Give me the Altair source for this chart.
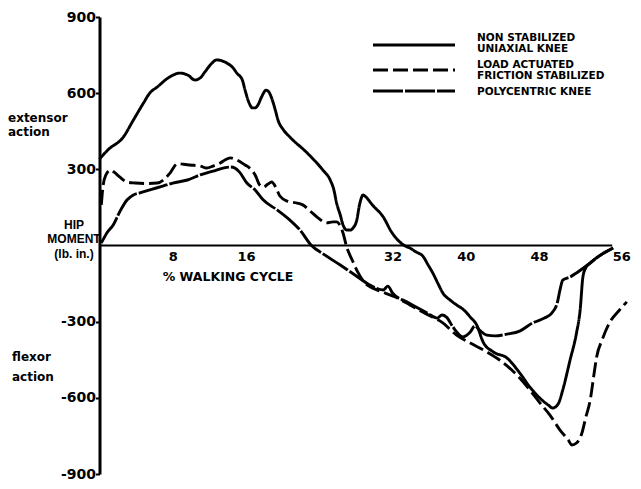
import altair as alt
import pandas as pd

# ---- data (x = % walking cycle, y = hip moment, lb. in.) ----
SERIES = ["NON STABILIZED", "LOAD ACTUATED", "POLYCENTRIC"]
LEGEND_TEXT = [
    ["NON STABILIZED", "UNIAXIAL KNEE"],
    ["LOAD ACTUATED", "FRICTION STABILIZED"],
    ["POLYCENTRIC KNEE"],
]

non_stab_x = [0.0, 0.9, 2.6, 3.7, 4.8, 5.5, 6.3, 7.5, 8.8, 9.7, 10.4, 11.0, 11.5, 12.2, 12.8,
              13.4, 13.9, 14.6, 15.0, 15.6, 15.9, 16.3, 16.7, 17.0, 17.3, 17.7, 18.2, 18.5, 18.8,
              19.2, 19.5, 20.1, 20.8, 22.7, 24.4, 25.2, 25.6, 25.9, 26.3, 26.6, 27.0, 27.4, 27.7,
              28.1, 28.4, 28.8, 29.1, 29.8, 31.0, 31.9, 32.8, 33.4, 33.9, 34.6, 35.3, 35.9, 36.4,
              37.0, 37.5, 38.3, 39.0, 39.8, 40.5, 41.2, 41.9, 43.0, 44.5, 45.9, 47.0, 48.1, 49.0,
              49.5, 50.1, 50.6, 51.4, 52.1, 52.5, 52.8, 53.1, 53.6, 54.6, 56.1]
non_stab_y = [340, 376, 427, 494, 561, 601, 624, 660, 679, 670, 652, 660, 683, 715, 731,
              727, 719, 699, 679, 652, 612, 565, 542, 542, 553, 585, 612, 605, 581,
              534, 494, 455, 427, 364, 297, 258, 219, 167, 120, 81, 61, 61, 69,
              100, 160, 199, 191, 160, 112, 53, 14, -2, -10, -26, -41, -77, -108,
              -152, -187, -215, -234, -254, -282, -313, -380, -419, -443, -502, -557, -601, -628,
              -640, -624, -569, -451, -345, -254, -124, -89, -69, -41, -10]

load_x = [0.2, 0.4, 0.7, 1.2, 1.6, 2.2, 3.0, 3.9, 5.0, 6.3, 7.1, 7.7, 8.5, 9.2,
          9.9, 11.0, 11.7, 12.4, 13.2, 13.7, 14.3, 15.0, 15.9, 16.4, 17.0, 17.5, 17.9, 18.4,
          18.8, 19.3, 19.7, 20.5, 21.6, 22.2, 23.0, 23.9, 24.8, 25.5, 25.9, 26.3, 26.6, 27.0,
          27.6, 28.2, 29.0, 29.8, 30.6, 32.3, 33.9, 35.5, 37.5, 39.0, 40.5, 42.3, 43.7, 45.9,
          47.0, 48.1, 49.2, 50.3, 51.2, 51.6, 52.1, 52.7, 53.1, 53.6, 54.0, 54.3, 54.9, 55.7,
          56.8, 57.6]
load_y = [160, 238, 278, 297, 289, 270, 250, 246, 244, 246, 262, 285, 322, 320,
          317, 313, 305, 313, 325, 337, 345, 337, 317, 305, 278, 238, 230, 242,
          250, 226, 195, 175, 167, 160, 136, 108, 89, 93, 93, 77, 49, -6,
          -57, -104, -148, -167, -179, -203, -234, -266, -305, -353, -384, -419, -451, -522,
          -569, -620, -668, -727, -766, -786, -778, -738, -679, -609, -510, -439, -372, -305,
          -254, -222]

poly_x = [0.2, 0.5, 0.8, 1.5, 2.2, 3.0, 3.7, 4.4, 5.5, 6.9, 8.0, 9.6, 11.0, 12.4, 13.5,
          14.3, 14.8, 15.3, 16.1, 17.0, 17.9, 19.4, 20.8, 21.9, 23.1, 24.6, 26.3, 27.9, 29.9,
          31.0, 31.5, 32.0, 33.6, 35.8, 36.9, 37.4, 37.9, 38.6, 39.7, 40.5, 41.0, 41.5, 42.3,
          43.2, 44.5, 45.9, 47.3, 48.6, 49.4, 50.0, 50.3, 50.6, 51.4, 52.1, 53.6, 54.6, 56.1]
poly_y = [10, 30, 49, 81, 132, 179, 199, 207, 219, 234, 246, 258, 278, 293, 305,
          309, 305, 289, 246, 219, 179, 140, 100, 61, 2, -37, -77, -116, -163,
          -175, -160, -187, -223, -266, -286, -274, -282, -321, -360, -341, -317, -333, -353,
          -356, -349, -337, -305, -286, -266, -226, -175, -136, -124, -108, -69, -41, -10]

x_ticks = [8, 16, 32, 40, 48, 56]
y_ticks = [-900, -600, -300, 300, 600, 900]
zero_line_end = 56.0

rows = []
for name, xs, ys in [(SERIES[0], non_stab_x, non_stab_y),
                     (SERIES[1], load_x, load_y),
                     (SERIES[2], poly_x, poly_y)]:
    for i, (xv, yv) in enumerate(zip(xs, ys)):
        rows.append({"series": name, "x": xv, "y": yv, "i": i})
df = pd.DataFrame(rows)

W, H = 531, 457
BOLD = "DejaVu Sans"
NARROW = "Liberation Sans Narrow, Liberation Sans, sans-serif"
DASH_SCALE = alt.Scale(domain=SERIES, range=[[1, 0], [15, 5], [30, 2]])

x_enc = alt.X(
    "x:Q",
    scale=alt.Scale(domain=[0, 58], nice=False, zero=False),
    axis=alt.Axis(
        values=x_ticks, offset=-H / 2, domain=False, ticks=False, tickSize=0, grid=False,
        labelFont=BOLD, labelFontWeight="bold", labelFontSize=13, labelColor="black",
        labelPadding=5, labelFlush=False,
        labelAlign=alt.condition("datum.value == 56", alt.value("left"), alt.value("center")),
        title="% WALKING CYCLE", titleX=128, titleY=25, titleAlign="center",
        titleBaseline="top", titleFont=BOLD, titleFontSize=12.5, titleFontWeight="bold",
        titleColor="black",
    ),
)
y_enc = alt.Y(
    "y:Q",
    scale=alt.Scale(domain=[-900, 900], nice=False),
    axis=alt.Axis(
        values=y_ticks, grid=False, domainColor="black", domainWidth=3,
        tickColor="black", tickSize=4, tickWidth=2,
        labelFont=BOLD, labelFontWeight="bold", labelFontSize=14, labelColor="black",
        labelPadding=0, labelFlush=False,
        labelExpr="datum.value < 0 ? '-' + format(abs(datum.value), 'd') : datum.label",
        title=["HIP", "MOMENT", "(lb. in.)"], titleAngle=0, titleAlign="center",
        titleBaseline="top", titleX=-26, titleY=202, titleFont=NARROW, titleFontSize=12,
        titleFontWeight="bold", titleLineHeight=14.5, titleColor="black",
    ),
)

lines = alt.Chart(df).mark_line(
    color="black", strokeWidth=2.9, interpolate="monotone", strokeJoin="round"
).encode(
    x=x_enc,
    y=y_enc,
    strokeDash=alt.StrokeDash("series:N", scale=DASH_SCALE, legend=None),
    order="i:Q",
)

zero_df = pd.DataFrame({"x": [0], "x2": [zero_line_end], "y": [0]})
zero_rule = alt.Chart(zero_df).mark_rule(color="black", strokeWidth=2).encode(
    x="x:Q", x2="x2:Q", y="y:Q"
)

# ---- hand-drawn style legend (line sample + caption), top right ----
legend_layers = []
legend_line_y = [28, 53, 74]
legend_text_y = [24, 51, 78]
for s, txt, ly, ty in zip(SERIES, LEGEND_TEXT, legend_line_y, legend_text_y):
    ldf = pd.DataFrame({"series": [s]})
    legend_layers.append(
        alt.Chart(ldf).mark_rule(color="black", strokeWidth=3).encode(
            x=alt.value(273.5), x2=alt.value(355.5), y=alt.value(ly),
            strokeDash=alt.StrokeDash("series:N", scale=DASH_SCALE, legend=None),
        )
    )
    legend_layers.append(
        alt.Chart(ldf).mark_text(
            text=txt, align="left", baseline="alphabetic", font=BOLD, fontWeight="bold",
            fontSize=10.5, lineHeight=11, color="black",
        ).encode(x=alt.value(377.5), y=alt.value(ty))
    )

one = pd.DataFrame({"a": [0]})
ext = alt.Chart(one).mark_text(
    text=["extensor", "action"], align="left", baseline="alphabetic", font=BOLD,
    fontWeight="bold", fontSize=12, lineHeight=14, color="black",
).encode(x=alt.value(-91.5), y=alt.value(105))
flx = alt.Chart(one).mark_text(
    text=["flexor", "action"], align="left", baseline="alphabetic", font=BOLD,
    fontWeight="bold", fontSize=12, lineHeight=20, color="black",
).encode(x=alt.value(-87.5), y=alt.value(344))

chart = alt.layer(zero_rule, lines, *legend_layers, ext, flx).properties(
    width=W, height=H,
    autosize=alt.AutoSizeParams(type="none"),
    padding={"left": 91.5, "top": 9, "right": 0, "bottom": 6},
    background="white",
).configure_view(stroke=None)

chart.save("out.html", embed_options={"renderer": "svg", "actions": False})
